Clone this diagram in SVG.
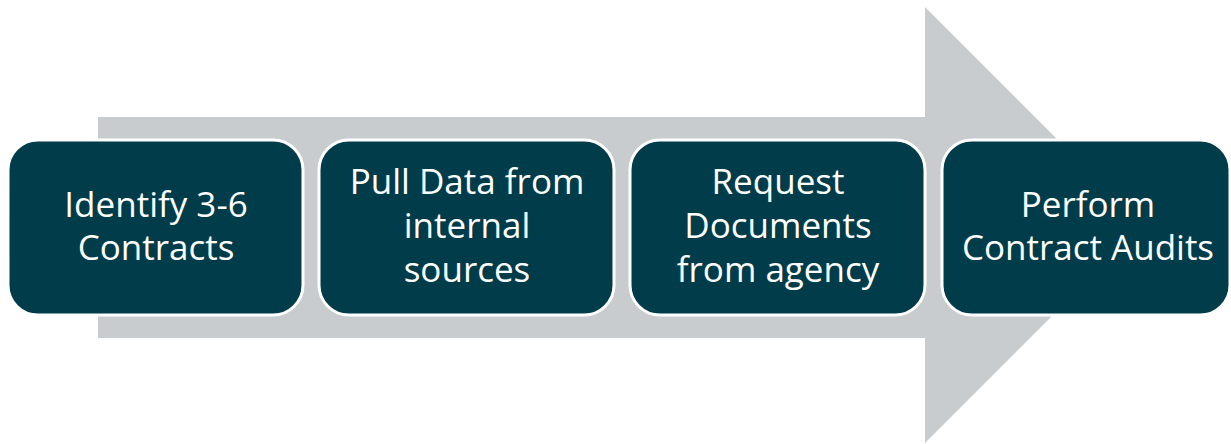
<svg xmlns="http://www.w3.org/2000/svg" width="1231" height="444" viewBox="0 0 1231 444">
  <style>
    .step { fill: #003c4a; stroke: #ffffff; stroke-width: 3; }
    .label { fill: #ffffff; font-family: "Open Sans", "Noto Sans", sans-serif; font-size: 35px; text-anchor: middle; }
  </style>
  <rect width="1231" height="444" fill="#ffffff"/>
  <!-- Background process arrow -->
  <g id="connectors">
    <polygon points="98,117 925,117 925,7 1143,225 925,443 925,338 98,338" fill="#c9cccf"/>
  </g>
  <g id="step1">
    <rect class="step" x="8" y="140" width="295" height="175" rx="30"/>
    <text class="label" x="156" y="217">Identify 3-6</text>
    <text class="label" x="156" y="260">Contracts</text>
  </g>
  <g id="step2">
    <rect class="step" x="319" y="140" width="295" height="175" rx="30"/>
    <text class="label" x="467" y="194">Pull Data from</text>
    <text class="label" x="467" y="238">internal</text>
    <text class="label" x="467" y="282">sources</text>
  </g>
  <g id="step3">
    <rect class="step" x="630" y="140" width="295" height="175" rx="30"/>
    <text class="label" x="778" y="194">Request</text>
    <text class="label" x="778" y="238">Documents</text>
    <text class="label" x="778" y="282">from agency</text>
  </g>
  <g id="step4">
    <rect class="step" x="942" y="140" width="288" height="175" rx="30"/>
    <text class="label" x="1088" y="217">Perform</text>
    <text class="label" x="1088" y="260">Contract Audits</text>
  </g>
</svg>
